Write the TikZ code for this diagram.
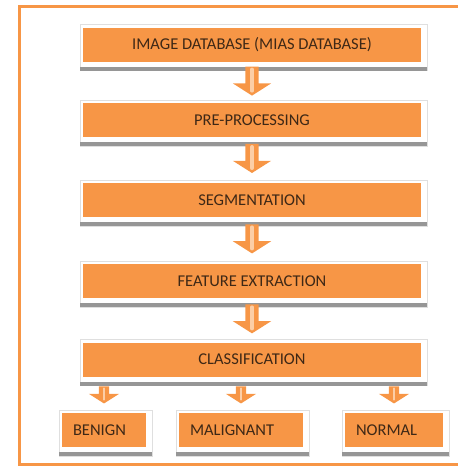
\documentclass[tikz,border=0pt]{standalone}
\usepackage{fontspec}
\setmainfont{Carlito}
\usetikzlibrary{shapes.arrows}
\definecolor{boxorange}{RGB}{247,150,70}
\definecolor{lightorange}{RGB}{252,206,166}
\definecolor{textbrown}{RGB}{62,40,22}
\definecolor{shadowgray}{RGB}{150,150,150}
\begin{document}
\begin{tikzpicture}[x=1pt,y=-1pt,
   box/.style={fill=boxorange,minimum width=338pt,minimum height=34pt,inner sep=0pt,
      text=textbrown,font=\fontsize{16.5}{18}\selectfont},
   leaf/.style={fill=boxorange,minimum height=34pt,inner xsep=11pt,inner ysep=0pt,align=left,
      text=textbrown,font=\fontsize{16.5}{18}\selectfont},
   bigarrow/.style={single arrow,rotate=-90,fill=boxorange,inner xsep=0pt,inner ysep=6.5pt,
      text height=0pt,text depth=0pt,minimum height=29pt,single arrow head extend=12.5pt,
      single arrow tip angle=115},
   smallarrow/.style={bigarrow,inner ysep=5pt,minimum height=17pt,single arrow head extend=10pt},
   glow/.style={lightorange,line width=#1,line cap=round}]
   \useasboundingbox (0,0) rectangle (458,469);
   % outer frame
   \draw[boxorange,line width=3pt] (19.5,6.5) rectangle (470,464.5);
   % main steps
   \node[box] (db)   at (252,44.5)  {IMAGE DATABASE (MIAS DATABASE)};
   \node[box] (pre)  at (252,120)   {PRE-PROCESSING};
   \node[box] (seg)  at (252,200)   {SEGMENTATION};
   \node[box] (feat) at (252,281)   {FEATURE EXTRACTION};
   \node[box] (cls)  at (252,359.5) {CLASSIFICATION};
   % classes
   \node[leaf,text width=62pt]  (benign) at (104,430) {BENIGN};
   \node[leaf,text width=102pt] (malig)  at (241,430) {MALIGNANT};
   \node[leaf,text width=76pt]  (normal) at (394,430) {NORMAL};
   % shadows
   \foreach \n in {db,pre,seg,feat,cls,benign,malig,normal}{
      \draw[gray!25,line width=0.6pt] ([shift={(-3pt,3pt)}]\n.north west) rectangle ([shift={(6pt,-9pt)}]\n.south east);
      \fill[shadowgray] ([shift={(-3pt,-5pt)}]\n.south west) rectangle ([shift={(6pt,-9pt)}]\n.south east);
   }
   % arrows
   \path (db.south)   -- (pre.north)  node[bigarrow,pos=0.42] (a1) {};
   \path (pre.south)  -- (seg.north)  node[bigarrow,pos=0.42] (a2) {};
   \path (seg.south)  -- (feat.north) node[bigarrow,pos=0.42] (a3) {};
   \path (feat.south) -- (cls.north)  node[bigarrow,pos=0.42] (a4) {};
   \path (cls.south -| benign.north) -- (benign.north) node[smallarrow,pos=0.46] (b1) {};
   \path (cls.south -| malig.north)  -- (malig.north)  node[smallarrow,pos=0.46] (b2) {};
   \path (cls.south -| normal.north) -- (normal.north) node[smallarrow,pos=0.46] (b3) {};
   \foreach \a in {a1,a2,a3,a4}
      \draw[glow=3.5pt] ([yshift=-3pt]\a.tail) -- ([yshift=5pt]\a.tip);
   \foreach \a in {b1,b2,b3}
      \draw[glow=2pt] ([yshift=-2pt]\a.tail) -- ([yshift=4pt]\a.tip);
\end{tikzpicture}
\end{document}
